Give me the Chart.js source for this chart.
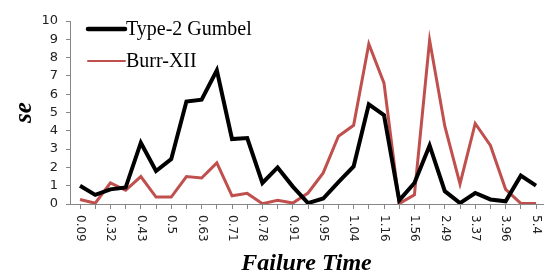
<!DOCTYPE html>
<html>
<head>
<meta charset="utf-8">
<script src="https://cdn.jsdelivr.net/npm/chart.js@4.4.1/dist/chart.umd.min.js"></script>
<style>
  html, body { margin: 0; padding: 0; background: #fff; }
  #wrap { width: 545px; height: 273px; }
</style>
</head>
<body>
<div id="wrap"><canvas id="grafico" width="545" height="273"></canvas></div>
<script>
// failure times (only every other one is printed on the axis)
const failureTimes = ['0.09', '0.2', '0.32', '0.4', '0.43', '0.48', '0.5', '0.57', '0.63', '0.68',
  '0.71', '0.74', '0.78', '0.84', '0.91', '0.93', '0.95', '1.0', '1.04', '1.1',
  '1.16', '1.4', '1.56', '1.9', '2.49', '2.9', '3.37', '3.7', '3.96', '4.5', '5.4'];
const gumbelSe = [1.0, 0.5, 0.8, 0.9, 3.35, 1.8, 2.45, 5.6, 5.7, 7.3,
  3.55, 3.6, 1.15, 2.0, 0.95, 0.05, 0.3, 1.2, 2.05, 5.45,
  4.85, 0.2, 1.15, 3.2, 0.7, 0.05, 0.6, 0.25, 0.15, 1.55, 1.0];
const burrSe = [0.25, 0.04, 1.15, 0.75, 1.5, 0.38, 0.38, 1.5, 1.42, 2.25,
  0.45, 0.58, 0.02, 0.2, 0.05, 0.6, 1.7, 3.7, 4.3, 8.75,
  6.6, 0.02, 0.5, 8.95, 4.25, 1.1, 4.4, 3.2, 0.8, 0.03, 0.03];
const yTicks = [0, 1, 2, 3, 4, 5, 6, 7, 8, 9, 10];

const axisGray = '#868686';

// x labels are written top to bottom, so draw them by hand
const rotulosX = {
  id: 'rotulosX',
  afterDraw(chart) {
    const c = chart.ctx;
    const sx = chart.scales.x;
    c.save();
    c.font = '12px "DejaVu Sans"';
    c.fillStyle = '#222';
    c.textAlign = 'left';
    c.textBaseline = 'middle';
    failureTimes.forEach((t, i) => {
      if (i % 2) return;
      c.save();
      c.translate(sx.getPixelForValue(i), chart.chartArea.bottom + 11);
      c.rotate(Math.PI / 2);
      c.fillText(t, 0, 0);
      c.restore();
    });
    c.restore();
  }
};

// legend in the upper left corner
const legenda = {
  id: 'legenda',
  afterDraw(chart) {
    const c = chart.ctx;
    const x0 = 88, x1 = 125;
    const ys = [29, 61];
    const larg = [4.5, 2];
    c.save();
    c.font = '20px "Liberation Serif"';
    c.textBaseline = 'middle';
    chart.data.datasets.forEach((ds, k) => {
      c.strokeStyle = ds.borderColor;
      c.lineWidth = larg[k];
      c.lineCap = 'round';
      c.beginPath();
      c.moveTo(x0, ys[k]);
      c.lineTo(x1, ys[k]);
      c.stroke();
      c.fillStyle = '#000';
      c.fillText(ds.label, x1 + 1, ys[k] + 1);
    });
    c.restore();
  }
};

const ctx = document.getElementById('grafico').getContext('2d');
new Chart(ctx, {
  type: 'line',
  data: {
    datasets: [{
      label: 'Type-2 Gumbel',
      data: gumbelSe.map((v, i) => ({ x: i, y: v })),
      borderColor: '#000000',
      borderWidth: 4,
      pointRadius: 0,
      tension: 0
    }, {
      label: 'Burr-XII',
      data: burrSe.map((v, i) => ({ x: i, y: v })),
      borderColor: '#c0504d',
      borderWidth: 3,
      pointRadius: 0,
      tension: 0
    }]
  },
  options: {
    responsive: false,
    animation: false,
    layout: { padding: { top: 21, right: 2, left: 0, bottom: 0 } },
    plugins: {
      legend: { display: false },
      tooltip: { enabled: false }
    },
    scales: {
      x: {
        type: 'linear',
        min: -0.66,
        max: 30.46,
        afterBuildTicks(axis) {
          axis.ticks = failureTimes.map((_, i) => ({ value: i }));
        },
        afterFit(axis) { axis.height = 69; },
        ticks: { display: false },
        grid: { drawOnChartArea: false, color: axisGray, tickLength: 5 },
        border: { color: axisGray, width: 1 },
        title: {
          display: true,
          text: 'Failure Time',
          color: '#000',
          font: { family: '"Liberation Serif"', size: 24, style: 'italic', weight: 'bold', lineHeight: 0.8 },
          padding: { top: 0, bottom: 0 }
        }
      },
      y: {
        min: 0,
        max: 10,
        afterBuildTicks(axis) {
          axis.ticks = yTicks.map(v => ({ value: v }));
        },
        afterFit(axis) { axis.width = 70; },
        ticks: {
          autoSkip: false,
          color: '#222',
          font: { family: '"DejaVu Sans"', size: 13 },
          padding: 8
        },
        grid: { drawOnChartArea: false, color: axisGray, tickLength: 4 },
        border: { color: axisGray, width: 1 },
        title: {
          display: true,
          text: 'se',
          color: '#000',
          font: { family: '"Liberation Serif"', size: 25, style: 'italic', weight: 'bold' },
          padding: { top: 10, bottom: 0 }
        }
      }
    }
  },
  plugins: [rotulosX, legenda]
});
</script>
</body>
</html>
